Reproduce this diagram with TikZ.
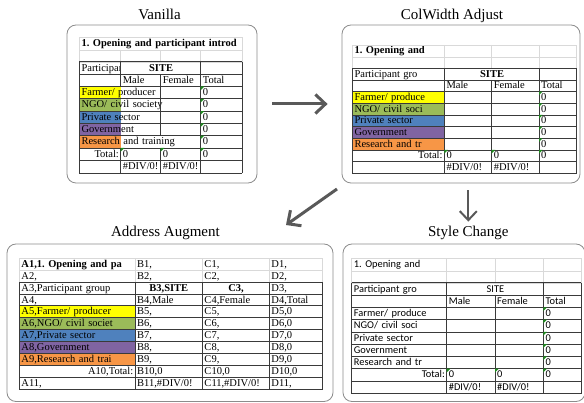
\documentclass[tikz,border=0pt]{standalone}
\usepackage{fontspec}
\setmainfont{Liberation Serif}
\newfontfamily\cellserif{Liberation Serif}
\newfontfamily\cellsans{Carlito}
\usepackage{tikz}
\usetikzlibrary{arrows.meta}
\usetikzlibrary{matrix}
\definecolor{xlyellow}{HTML}{FFFF00}
\definecolor{xlgreen}{HTML}{9BBB59}
\definecolor{xlblue}{HTML}{4F81BD}
\definecolor{xlpurple}{HTML}{8064A2}
\definecolor{xlorange}{HTML}{F79646}
\definecolor{xlgrid}{HTML}{D9D9D9}
\definecolor{xlrule}{HTML}{3A3A3A}
\definecolor{xlflag}{HTML}{1E8C1E}
\definecolor{flowgray}{HTML}{595959}
\newcommand\serifsheet{\cellserif\fontsize{10.5}{12}\selectfont}
\newcommand\sanssheet{\cellsans\fontsize{10.4}{12}\selectfont}
\tikzstyle{panel}=[draw=black!45,line width=.8pt,rounded corners=9pt,inner sep=0pt]
\tikzstyle{title}=[font=\fontsize{15}{18}\selectfont,inner sep=0pt,anchor=base]
\tikzstyle{sheet}=[matrix of nodes,nodes in empty cells,row sep=0pt,column sep=0pt,inner sep=0pt,anchor=north west]
\tikzstyle{gridrule}=[draw=xlgrid,line width=.6pt]
\tikzstyle{cellrule}=[draw=xlrule,line width=.8pt]
\tikzstyle{flow}=[draw=flowgray,line width=3pt,-{Straight Barb[length=10pt,width=19pt]}]
\tikzset{cols/.style n args={6}{nodes={font=#6,inner xsep=2pt,inner ysep=0pt,text height=8.2pt,text depth=2.5pt,minimum height=#5},
  column 1/.style={nodes={text width=#1}},column 2/.style={nodes={text width=#2}},
  column 3/.style={nodes={text width=#3}},column 4/.style={nodes={text width=#4}}}}
% light gridlines on the two top rows, dark borders from row 3 down
\newcommand\sheetrules[2]{%
  \draw[gridrule] (#1-1-1.north west) rectangle (#1-2-4.south east) (#1-1-1.south west) -- (#1-1-4.south east);
  \foreach \c in {2,3,4} \draw[gridrule] (#1-#2-\c.north west) -- (#1-2-\c.south west);
  \foreach \r in {3,...,11} \draw[cellrule] (#1-\r-1.north west) -- (#1-\r-4.north east);
  \draw[cellrule] (#1-11-1.south west) -- (#1-11-4.south east);
  \foreach \c in {1,4} \draw[cellrule] (#1-3-\c.north west) -- (#1-11-\c.south west);
  \draw[cellrule] (#1-3-4.north east) -- (#1-11-4.south east);
}
\newcommand\errflags[1]{%
  \foreach \cl in {#1-5-4,#1-6-4,#1-7-4,#1-8-4,#1-9-4,#1-10-2,#1-10-3,#1-10-4}
    \fill[xlflag] (\cl.north west) -- ++(3.6,0) -- ++(-3.6,3.6) -- cycle;
}

\begin{document}
\begin{tikzpicture}[x=1pt,y=-1pt]
	\useasboundingbox (0,0) rectangle (584,403);
	\node[panel,minimum width=190pt,minimum height=158pt] (vanilla) at (162,104) {};
	\node[panel,minimum width=238pt,minimum height=158pt] (colwidth) at (461,104) {};
	\node[panel,minimum width=326pt,minimum height=157.5pt] (address) at (170,322.75) {};
	\node[panel,minimum width=242pt,minimum height=157.5pt] (stylechange) at (464,322.75) {};
	\node[title] (vntitle) at (159.5,20) {Vanilla};
	\node[title] (cwtitle) at (452,20) {ColWidth Adjust};
	\node[title] (adtitle) at (165.4,236.7) {Address Augment};
	\node[title] (sttitle) at (468.3,236.7) {Style Change};

	% Vanilla
	\matrix (vn) [sheet,cols={37.4pt}{36pt}{36pt}{37pt}{12.3pt}{\serifsheet}] at (79.3,37.3) {
	  \rlap{\bfseries 1.\ Opening and participant introd} &&& \\
	  &&& \\
	  \rlap{Participan} & |[fill=white]| && \\
	  & Male & Female & Total \\
	  |[fill=xlyellow]| \rlap{Farmer/ producer} &&& 0 \\
	  |[fill=xlgreen]| \rlap{NGO/ civil society} &&& 0 \\
	  |[fill=xlblue]| \rlap{Private sector} &&& 0 \\
	  |[fill=xlpurple]| \rlap{Government} &&& 0 \\
	  |[fill=xlorange]| \rlap{Research and training} &&& 0 \\
	  |[align=right]| Total: & 0 & 0 & 0 \\
	  & \#DIV/0! & \#DIV/0! & \\
	};
	\node[anchor=base,inner sep=0pt,font=\serifsheet\bfseries] (vnsite) at (vn-3-2.base east) {SITE};
	\sheetrules{vn}{2}
	\draw[cellrule] (vn-3-2.north west) -- (vn-4-2.south west) (vn-10-2.north west) -- (vn-11-2.south west);
	\draw[cellrule] (vn-4-3.north west) -- (vn-8-3.south west) (vn-10-3.north west) -- (vn-11-3.south west);
	\errflags{vn}

	% ColWidth Adjust
	\matrix (cw) [sheet,cols={88pt}{43.4pt}{43.3pt}{32.7pt}{11.66pt}{\serifsheet}] at (352.3,45) {
	  \textbf{1.\ Opening and} &&& \\
	  &&& \\
	  Participant gro &&& \\
	  & Male & Female & Total \\
	  |[fill=xlyellow]| Farmer/ produce &&& 0 \\
	  |[fill=xlgreen]| NGO/ civil soci &&& 0 \\
	  |[fill=xlblue]| Private sector &&& 0 \\
	  |[fill=xlpurple]| Government &&& 0 \\
	  |[fill=xlorange]| Research and tr &&& 0 \\
	  |[align=right]| Total: & 0 & 0 & 0 \\
	  & \#DIV/0! & \#DIV/0! & \\
	};
	\node[anchor=base,inner sep=0pt,font=\serifsheet\bfseries] (cwsite) at (cw-3-2.base east) {SITE};
	\sheetrules{cw}{1}
	\draw[cellrule] (cw-3-2.north west) -- (cw-11-2.south west) (cw-4-3.north west) -- (cw-11-3.south west);
	\errflags{cw}

	% Address Augment
	\matrix (ad) [sheet,cols={111.7pt}{63.3pt}{63pt}{48.4pt}{11.9pt}{\serifsheet}] at (19.3,258.3) {
	  \textbf{A1,1.\ Opening and pa} & B1, & C1, & D1, \\
	  A2, & B2, & C2, & D2, \\
	  A3,Participant group & |[align=center]| \textbf{B3,SITE} & |[align=center]| \textbf{C3,} & D3, \\
	  A4, & B4,Male & C4,Female & D4,Total \\
	  |[fill=xlyellow]| A5,Farmer/ producer & B5, & C5, & D5,0 \\
	  |[fill=xlgreen]| A6,NGO/ civil societ & B6, & C6, & D6,0 \\
	  |[fill=xlblue]| A7,Private sector & B7, & C7, & D7,0 \\
	  |[fill=xlpurple]| A8,Government & B8, & C8, & D8,0 \\
	  |[fill=xlorange]| A9,Research and trai & B9, & C9, & D9,0 \\
	  |[align=right]| A10,Total: & B10,0 & C10,0 & D10,0 \\
	  A11, & B11,\#DIV/0! & C11,\#DIV/0! & D11, \\
	};
	\sheetrules{ad}{1}
	\draw[cellrule] (ad-3-2.north west) -- (ad-11-2.south west) (ad-3-3.north west) -- (ad-11-3.south west);

	% Style Change
	\matrix (st) [sheet,cols={91pt}{44.3pt}{44.3pt}{33.4pt}{12.27pt}{\sanssheet}] at (351.7,258.3) {
	  1.\ Opening and &&& \\
	  &&& \\
	  Participant gro &&& \\
	  & Male & Female & Total \\
	  Farmer/ produce &&& 0 \\
	  NGO/ civil soci &&& 0 \\
	  Private sector &&& 0 \\
	  Government &&& 0 \\
	  Research and tr &&& 0 \\
	  |[align=right]| Total: & 0 & 0 & 0 \\
	  & \#DIV/0! & \#DIV/0! & \\
	};
	\node[anchor=base,inner sep=0pt,font=\sanssheet] (stsite) at (st-3-2.base east) {SITE};
	\sheetrules{st}{1}
	\draw[cellrule] (st-3-2.north west) -- (st-11-2.south west) (st-4-3.north west) -- (st-11-3.south west);
	\errflags{st}

	% arrows between the panels
	\coordinate (diagfrom) at (337,189);
	\coordinate (diagto) at (286,225);
	\draw[flow,shorten <=15pt,shorten >=14pt] (vanilla) -- (colwidth);
	\draw[flow] (diagfrom) -- (diagto);
	\draw[flow,line width=2pt,-{Straight Barb[length=9pt,width=17pt]},shorten <=7pt,shorten >=4.5pt] (colwidth.south -| sttitle) -- (sttitle.north);
\end{tikzpicture}
\end{document}
